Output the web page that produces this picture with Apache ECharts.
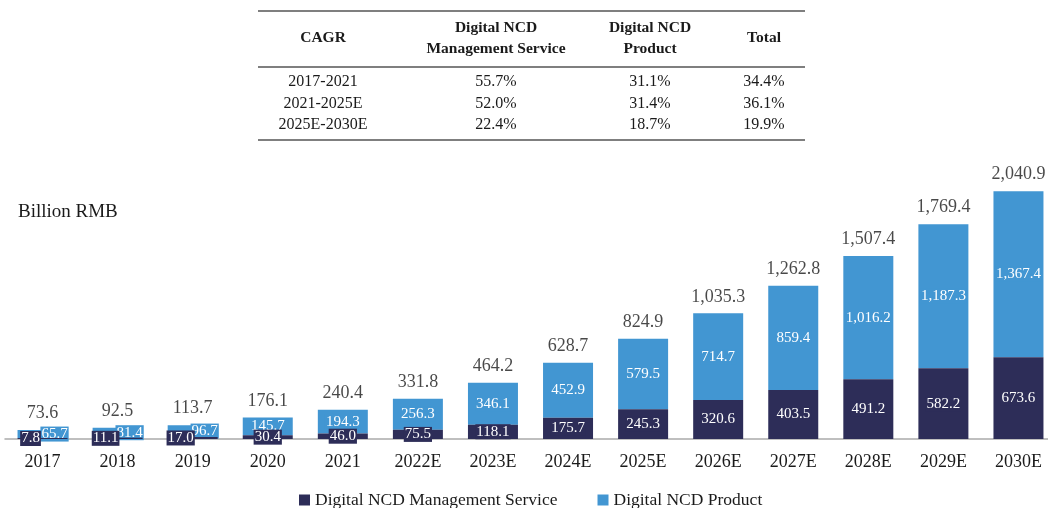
<!DOCTYPE html>
<html>
<head>
<meta charset="utf-8">
<script src="https://cdn.jsdelivr.net/npm/echarts@6/dist/echarts.min.js"></script>
<style>html,body{margin:0;padding:0;background:#fff}#c{width:1048px;height:508px}</style>
</head>
<body>
<div id="c"></div>
<script>
const categories = ['2017','2018','2019','2020','2021','2022E','2023E','2024E','2025E','2026E','2027E','2028E','2029E','2030E'];
const mgmtService = [7.8, 11.1, 17.0, 30.4, 46.0, 75.5, 118.1, 175.7, 245.3, 320.6, 403.5, 491.2, 582.2, 673.6];
const product = [65.7, 81.4, 96.7, 145.7, 194.3, 256.3, 346.1, 452.9, 579.5, 714.7, 859.4, 1016.2, 1187.3, 1367.4];
const totals = [73.6, 92.5, 113.7, 176.1, 240.4, 331.8, 464.2, 628.7, 824.9, 1035.3, 1262.8, 1507.4, 1769.4, 2040.9];
const seriesNames = ['Digital NCD Management Service', 'Digital NCD Product'];
const tableHeader = ['CAGR', 'Digital NCD\nManagement Service', 'Digital NCD\nProduct', 'Total'];
const tableRows = [
  ['2017-2021', '55.7%', '31.1%', '34.4%'],
  ['2021-2025E', '52.0%', '31.4%', '36.1%'],
  ['2025E-2030E', '22.4%', '18.7%', '19.9%']
];

const DARK = '#2d2d58';
const LIGHT = '#4296d2';
const TXT = '#1a1a1a';
const FONT = '"Liberation Serif", "DejaVu Serif", serif';
const fmt = v => v.toLocaleString('en-US', {minimumFractionDigits: 1, maximumFractionDigits: 1});

// table graphics
const colX = [323, 496, 650, 764];
const graphic = [];
const line = (y) => ({type: 'line', shape: {x1: 258, y1: y, x2: 805, y2: y}, style: {stroke: '#555', lineWidth: 1.5}});
graphic.push(line(11), line(67), line(140));
tableHeader.forEach((h, i) => {
  graphic.push({type: 'text', x: colX[i], y: 38, style: {text: h, align: 'center', verticalAlign: 'middle', font: 'bold 15.5px ' + FONT, fill: TXT, lineHeight: 21}});
});
tableRows.forEach((r, ri) => {
  r.forEach((t, ci) => {
    graphic.push({type: 'text', x: colX[ci], y: 82 + ri * 21.5, style: {text: t, align: 'center', verticalAlign: 'middle', font: '16px ' + FONT, fill: TXT}});
  });
});
graphic.push({type: 'text', x: 18, y: 212, style: {text: 'Billion RMB', align: 'left', verticalAlign: 'middle', font: '19px ' + FONT, fill: TXT}});

const valLabel = (bg) => ({show: true, position: 'inside', color: '#fff', fontFamily: FONT, fontSize: 15, backgroundColor: bg, padding: [0, 1], formatter: p => fmt(p.value)});

const mgmtData = mgmtService.map((v, i) => {
  const d = {value: v};
  if (i < 3) d.label = {offset: [-12, 0]};
  return d;
});
const prodData = product.map((v, i) => {
  const d = {value: v};
  if (i < 3) d.label = {offset: [12, 0]};
  return d;
});

const option = {
  animation: false,
  textStyle: {fontFamily: FONT},
  graphic: graphic,
  grid: {left: 5, width: 1051, top: 184, bottom: 69, outerBoundsMode: 'none', containLabel: false},
  legend: {
    left: 294, top: 486, itemWidth: 11, itemHeight: 11, itemGap: 40, icon: 'rect',
    textStyle: {fontFamily: FONT, fontSize: 17.5, color: TXT},
    data: seriesNames
  },
  xAxis: {
    type: 'category', data: categories,
    axisLine: {lineStyle: {color: '#aaa', width: 1.5}},
    axisTick: {show: false},
    axisLabel: {color: TXT, fontFamily: FONT, fontSize: 18, margin: 14}
  },
  yAxis: {type: 'value', min: 0, max: 2100, show: false, splitLine: {show: false}},
  series: [
    {name: seriesNames[0], type: 'bar', stack: 'a', barWidth: 50, itemStyle: {color: DARK}, label: valLabel(DARK), data: mgmtData, z: 3},
    {name: seriesNames[1], type: 'bar', stack: 'a', barWidth: 50, itemStyle: {color: LIGHT}, label: valLabel(LIGHT), data: prodData, z: 2},
    {name: 'Total', type: 'scatter', data: totals, symbolSize: 1, itemStyle: {color: 'rgba(0,0,0,0)'},
     label: {show: true, position: 'top', distance: 7, color: TXT, fontFamily: FONT, fontSize: 18, formatter: p => fmt(p.value)}, z: 5}
  ]
};
const chart = echarts.init(document.getElementById('c'), null, {renderer: 'canvas'});
chart.setOption(option);
</script>
</body>
</html>
